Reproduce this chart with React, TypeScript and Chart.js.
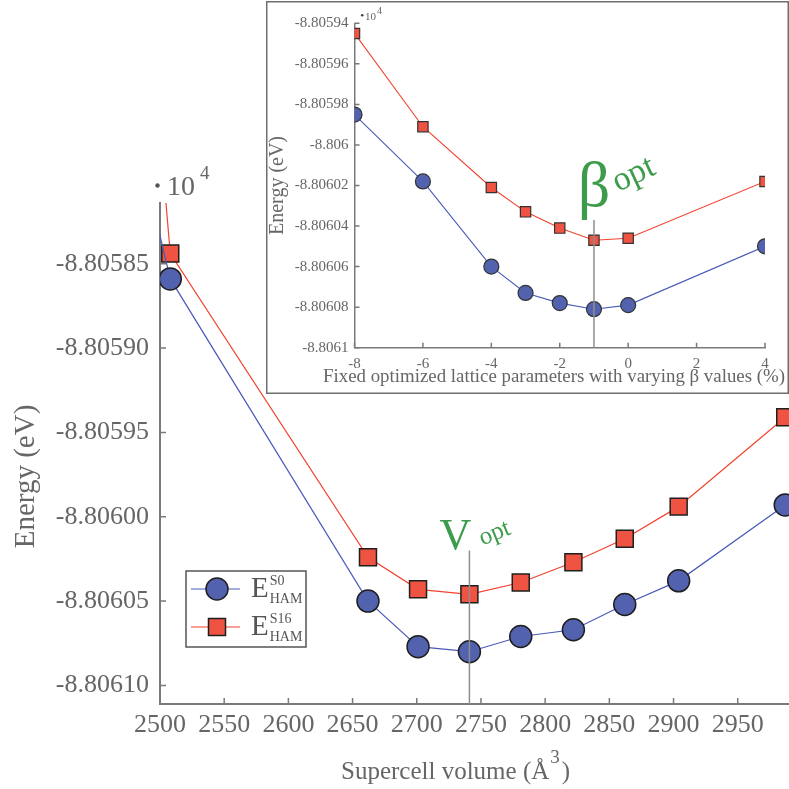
import React, { useEffect, useRef } from "react";
import { Chart, registerables } from "chart.js";

Chart.register(...registerables);

// ---------------- data (main panel, energies shown in units of 10^4 eV) ----------------
const volumes = [2460, 2508, 2662, 2701, 2741, 2781, 2822, 2862, 2904, 2987];
const energyS0 = [-8.805706, -8.805859, -8.80605, -8.806077, -8.80608, -8.806071, -8.806067, -8.806052, -8.806038, -8.805993];
const energyS16 = [-8.805415, -8.805844, -8.806024, -8.806043, -8.806046, -8.806039, -8.806027, -8.806013, -8.805994, -8.805941];
const vOpt = 2741;
const vOptLineTop = -8.80602;

const mainXTicks = [2500, 2550, 2600, 2650, 2700, 2750, 2800, 2850, 2900, 2950];
const mainYTicks = [-8.80585, -8.8059, -8.80595, -8.806, -8.80605, -8.8061];
const mainYTickLabels = ["-8.80585", "-8.80590", "-8.80595", "-8.80600", "-8.80605", "-8.80610"];

// ---------------- data (inset) ----------------
const betas = [-8, -6, -4, -3, -2, -1, 0, 4];
const insetS0 = [-8.805985, -8.806018, -8.80606, -8.806073, -8.806078, -8.806081, -8.806079, -8.80605];
const insetS16 = [-8.805945, -8.805991, -8.806021, -8.806033, -8.806041, -8.806047, -8.806046, -8.806018];
const betaOpt = -1;
const betaOptLineTop = -8.806037;

const insetXTicks = [-8, -6, -4, -2, 0, 2, 4];
const insetYTicks = [-8.80594, -8.80596, -8.80598, -8.806, -8.80602, -8.80604, -8.80606, -8.80608, -8.8061];
const insetYTickLabels = ["-8.80594", "-8.80596", "-8.80598", "-8.806", "-8.80602", "-8.80604", "-8.80606", "-8.80608", "-8.8061"];

// ---------------- styles ----------------
const FONT = "'Liberation Serif', 'Times New Roman', serif";
const AXIS = "#7a7a7a";
const TEXT = "#666666";
const GREEN = "#3c9c4c";
const BLUE_LINE = "#4a5ab8";
const BLUE_FILL = "#5362af";
const RED_LINE = "#f2432f";
const RED_FILL = "#ef5442";
const MARK_EDGE = "#1f1f1f";

function tickPlugin(len: number) {
  return {
    id: "inTicks",
    afterDraw(chart: any) {
      const { ctx, chartArea } = chart;
      const xs = chart.scales.x;
      const ys = chart.scales.y;
      ctx.save();
      ctx.strokeStyle = AXIS;
      ctx.lineWidth = 1.5;
      ctx.beginPath();
      xs.ticks.forEach((t: any) => {
        const px = xs.getPixelForValue(t.value);
        ctx.moveTo(px, chartArea.bottom);
        ctx.lineTo(px, chartArea.bottom - len);
      });
      ys.ticks.forEach((t: any) => {
        const py = ys.getPixelForValue(t.value);
        ctx.moveTo(chartArea.left, py);
        ctx.lineTo(chartArea.left + len, py);
      });
      ctx.stroke();
      ctx.restore();
    },
  };
}

const mainDecor = {
  id: "mainDecor",
  afterDatasetsDraw(chart: any) {
    const { ctx, chartArea } = chart;
    const xs = chart.scales.x;
    const ys = chart.scales.y;
    const lx = xs.getPixelForValue(vOpt);
    const ly = ys.getPixelForValue(vOptLineTop);
    ctx.save();
    ctx.strokeStyle = "#8e8e8e";
    ctx.lineWidth = 1.5;
    ctx.beginPath();
    ctx.moveTo(lx, ly);
    ctx.lineTo(lx, chartArea.bottom);
    ctx.stroke();
    // V opt
    ctx.fillStyle = GREEN;
    ctx.font = `44px ${FONT}`;
    ctx.textAlign = "center";
    ctx.textBaseline = "alphabetic";
    ctx.fillText("V", lx - 14, ly - 1);
    ctx.translate(lx + 13, ly - 5);
    ctx.rotate((-22 * Math.PI) / 180);
    ctx.font = `25px ${FONT}`;
    ctx.textAlign = "left";
    ctx.fillText("opt", 0, 0);
    ctx.restore();
  },
  afterDraw(chart: any) {
    const { ctx, chartArea } = chart;
    ctx.save();
    // axis titles
    ctx.fillStyle = TEXT;
    ctx.textBaseline = "alphabetic";
    ctx.textAlign = "left";
    ctx.font = `25px ${FONT}`;
    const t1 = "Supercell volume (Å";
    const x0 = 341;
    const base = 779;
    ctx.fillText(t1, x0, base);
    const w1 = ctx.measureText(t1).width;
    ctx.font = `19px ${FONT}`;
    ctx.fillText("3", x0 + w1 + 1, base - 16);
    const w2 = ctx.measureText("3").width;
    ctx.font = `25px ${FONT}`;
    ctx.fillText(")", x0 + w1 + w2 + 3, base);

    ctx.save();
    ctx.translate(26, 476.5);
    ctx.rotate(-Math.PI / 2);
    ctx.font = `29px ${FONT}`;
    ctx.textAlign = "center";
    ctx.textBaseline = "middle";
    ctx.fillText("Energy (eV)", 0, 0);
    ctx.restore();

    // x10^4 multiplier
    ctx.fillStyle = "#555";
    ctx.beginPath();
    ctx.arc(chartArea.left - 2.5, chartArea.top - 17.5, 2.2, 0, Math.PI * 2);
    ctx.fill();
    ctx.font = `28px ${FONT}`;
    ctx.textAlign = "left";
    ctx.textBaseline = "alphabetic";
    ctx.fillStyle = TEXT;
    ctx.fillText("10", chartArea.left + 7, chartArea.top - 8);
    ctx.font = `19px ${FONT}`;
    ctx.fillText("4", chartArea.left + 40, chartArea.top - 24);

    // legend
    const bx = 186, by = 571, bw = 120, bh = 76;
    ctx.fillStyle = "#fff";
    ctx.fillRect(bx, by, bw, bh);
    ctx.strokeStyle = "#555";
    ctx.lineWidth = 1.5;
    ctx.strokeRect(bx, by, bw, bh);
    const rows = [
      { y: 589, line: BLUE_LINE, fill: BLUE_FILL, shape: "circle", sup: "S0" },
      { y: 627, line: RED_LINE, fill: RED_FILL, shape: "rect", sup: "S16" },
    ];
    rows.forEach((r) => {
      ctx.strokeStyle = r.line;
      ctx.lineWidth = 1.2;
      ctx.beginPath();
      ctx.moveTo(bx + 5, r.y);
      ctx.lineTo(bx + 54, r.y);
      ctx.stroke();
      ctx.fillStyle = r.fill;
      ctx.strokeStyle = MARK_EDGE;
      ctx.lineWidth = 1.5;
      ctx.beginPath();
      if (r.shape === "circle") {
        ctx.arc(bx + 31, r.y, 11, 0, Math.PI * 2);
      } else {
        ctx.rect(bx + 31 - 8.5, r.y - 8.5, 17, 17);
      }
      ctx.fill();
      ctx.stroke();
      ctx.fillStyle = "#555";
      ctx.font = `29px ${FONT}`;
      ctx.fillText("E", bx + 65, r.y + 8);
      const w = ctx.measureText("E").width;
      ctx.font = `14px ${FONT}`;
      ctx.fillText(r.sup, bx + 66 + w, r.y - 4);
      ctx.fillText("HAM", bx + 66 + w, r.y + 14);
    });
    ctx.restore();
  },
};

const insetDecor = {
  id: "insetDecor",
  beforeDraw(chart: any) {
    const { ctx, width, height } = chart;
    ctx.save();
    ctx.fillStyle = "#fff";
    ctx.fillRect(0, 0, width, height);
    ctx.strokeStyle = "#6e6e6e";
    ctx.lineWidth = 1.5;
    ctx.strokeRect(0.75, 0.75, width - 1.5, height - 1.5);
    ctx.restore();
  },
  afterDatasetsDraw(chart: any) {
    const { ctx, chartArea } = chart;
    const xs = chart.scales.x;
    const ys = chart.scales.y;
    const lx = xs.getPixelForValue(betaOpt);
    const ly = ys.getPixelForValue(betaOptLineTop);
    ctx.save();
    ctx.strokeStyle = "#8e8e8e";
    ctx.lineWidth = 1.5;
    ctx.beginPath();
    ctx.moveTo(lx, ly);
    ctx.lineTo(lx, chartArea.bottom);
    ctx.stroke();
    ctx.fillStyle = GREEN;
    ctx.font = `64px ${FONT}`;
    ctx.textAlign = "center";
    ctx.textBaseline = "alphabetic";
    ctx.fillText("β", lx, ly - 14);
    ctx.translate(lx + 24, ly - 28);
    ctx.rotate((-25 * Math.PI) / 180);
    ctx.font = `34px ${FONT}`;
    ctx.textAlign = "left";
    ctx.fillText("opt", 0, 0);
    ctx.restore();
  },
  afterDraw(chart: any) {
    const { ctx, chartArea } = chart;
    ctx.save();
    // x-axis title of the inset (wider than its axis, as in the original)
    ctx.fillStyle = TEXT;
    ctx.font = `19.5px ${FONT}`;
    ctx.textAlign = "center";
    ctx.textBaseline = "middle";
    ctx.fillText("Fixed optimized lattice parameters with varying β values (%)", 288, 376, 462);

    ctx.fillStyle = "#444";
    ctx.beginPath();
    ctx.arc(chartArea.left + 7.7, chartArea.top - 8, 1.3, 0, Math.PI * 2);
    ctx.fill();
    ctx.fillStyle = TEXT;
    ctx.font = `11px ${FONT}`;
    ctx.textAlign = "left";
    ctx.textBaseline = "alphabetic";
    ctx.fillText("10", chartArea.left + 10.5, chartArea.top - 3.5);
    ctx.font = `10px ${FONT}`;
    ctx.fillText("4", chartArea.left + 22.5, chartArea.top - 9);
    ctx.restore();
  },
};

function mainConfig(): any {
  return {
    type: "line",
    data: {
      datasets: [
        {
          label: "E_HAM^S0",
          data: volumes.map((v, i) => ({ x: v, y: energyS0[i] })),
          borderColor: BLUE_LINE,
          borderWidth: 1.2,
          pointStyle: "circle",
          pointRadius: 11,
          pointBackgroundColor: BLUE_FILL,
          pointBorderColor: MARK_EDGE,
          pointBorderWidth: 1.5,
          tension: 0,
        },
        {
          label: "E_HAM^S16",
          data: volumes.map((v, i) => ({ x: v, y: energyS16[i] })),
          borderColor: RED_LINE,
          borderWidth: 1.2,
          pointStyle: "rect",
          pointRadius: 12,
          pointBackgroundColor: RED_FILL,
          pointBorderColor: MARK_EDGE,
          pointBorderWidth: 1.5,
          tension: 0,
        },
      ],
    },
    options: {
      animation: false,
      responsive: false,
      devicePixelRatio: 1,
      events: [],
      layout: { padding: { left: 0, top: 203, right: 5, bottom: 0 } },
      plugins: { legend: { display: false }, tooltip: { enabled: false } },
      scales: {
        x: {
          type: "linear",
          min: 2500,
          max: 2995,
          afterBuildTicks: (s: any) => {
            s.ticks = mainXTicks.map((v) => ({ value: v }));
          },
          afterFit: (s: any) => {
            s.height = 85;
          },
          grid: { display: false, drawTicks: false },
          border: { display: true, color: AXIS, width: 2 },
          ticks: {
            padding: 6,
            color: TEXT,
            font: { family: FONT, size: 26 },
            maxRotation: 0,
            autoSkip: false,
            callback: (v: any) => String(v),
          },
          title: { display: false, text: "Supercell volume (Å³)" },
        },
        y: {
          type: "linear",
          min: -8.806111,
          max: -8.805814,
          afterBuildTicks: (s: any) => {
            s.ticks = mainYTicks.map((v) => ({ value: v }));
          },
          afterFit: (s: any) => {
            s.width = 160;
          },
          grid: { display: false, drawTicks: false },
          border: { display: true, color: AXIS, width: 2 },
          ticks: {
            padding: 11,
            color: TEXT,
            font: { family: FONT, size: 26 },
            autoSkip: false,
            callback: (_v: any, i: number) => mainYTickLabels[i],
          },
          title: { display: false, text: "Energy (eV)" },
        },
      },
    },
    plugins: [tickPlugin(6), mainDecor],
  };
}

function insetConfig(): any {
  return {
    type: "line",
    data: {
      datasets: [
        {
          label: "E_HAM^S0",
          data: betas.map((b, i) => ({ x: b, y: insetS0[i] })),
          borderColor: BLUE_LINE,
          borderWidth: 1.1,
          pointStyle: "circle",
          pointRadius: 7.5,
          pointBackgroundColor: BLUE_FILL,
          pointBorderColor: "#333",
          pointBorderWidth: 1.2,
          tension: 0,
        },
        {
          label: "E_HAM^S16",
          data: betas.map((b, i) => ({ x: b, y: insetS16[i] })),
          borderColor: RED_LINE,
          borderWidth: 1.1,
          pointStyle: "rect",
          pointRadius: 7.3,
          pointBackgroundColor: RED_FILL,
          pointBorderColor: "#333",
          pointBorderWidth: 1.2,
          tension: 0,
        },
      ],
    },
    options: {
      animation: false,
      responsive: false,
      devicePixelRatio: 1,
      events: [],
      layout: { padding: { left: 0, top: 22.3, right: 24, bottom: 0 } },
      plugins: { legend: { display: false }, tooltip: { enabled: false } },
      scales: {
        x: {
          type: "linear",
          min: -8,
          max: 4,
          afterBuildTicks: (s: any) => {
            s.ticks = insetXTicks.map((v) => ({ value: v }));
          },
          afterFit: (s: any) => {
            s.height = 46.3;
          },
          grid: { display: false, drawTicks: false },
          border: { display: true, color: AXIS, width: 1.5 },
          ticks: {
            padding: 7,
            color: TEXT,
            font: { family: FONT, size: 15 },
            maxRotation: 0,
            autoSkip: false,
            callback: (v: any) => String(v),
          },
          title: { display: false, text: "Fixed optimized lattice parameters with varying β values (%)" },
        },
        y: {
          type: "linear",
          min: -8.8061,
          max: -8.80594,
          afterBuildTicks: (s: any) => {
            s.ticks = insetYTicks.map((v) => ({ value: v }));
          },
          afterFit: (s: any) => {
            s.width = 88.5;
          },
          grid: { display: false, drawTicks: false },
          border: { display: true, color: AXIS, width: 1.5 },
          ticks: {
            padding: 6,
            color: TEXT,
            font: { family: FONT, size: 15 },
            autoSkip: false,
            callback: (_v: any, i: number) => insetYTickLabels[i],
          },
          title: {
            display: true,
            text: "Energy (eV)",
            color: TEXT,
            font: { family: FONT, size: 20 },
            padding: { top: 0, bottom: 0 },
          },
        },
      },
    },
    plugins: [tickPlugin(5), insetDecor],
  };
}

export default function App() {
  const mainRef = useRef<HTMLCanvasElement>(null);
  const insetRef = useRef<HTMLCanvasElement>(null);

  useEffect(() => {
    const main = new Chart(mainRef.current as HTMLCanvasElement, mainConfig());
    const inset = new Chart(insetRef.current as HTMLCanvasElement, insetConfig());
    return () => {
      main.destroy();
      inset.destroy();
    };
  }, []);

  return (
    <div
      style={{
        position: "fixed",
        left: 0,
        top: 0,
        width: 789,
        height: 789,
        overflow: "hidden",
        background: "#fff",
      }}
    >
      <canvas
        ref={mainRef}
        width={809}
        height={789}
        style={{ position: "absolute", left: 0, top: 0, width: 809, height: 789 }}
      />
      <canvas
        ref={insetRef}
        width={523}
        height={393}
        style={{ position: "absolute", left: 266, top: 1, width: 523, height: 393 }}
      />
    </div>
  );
}
